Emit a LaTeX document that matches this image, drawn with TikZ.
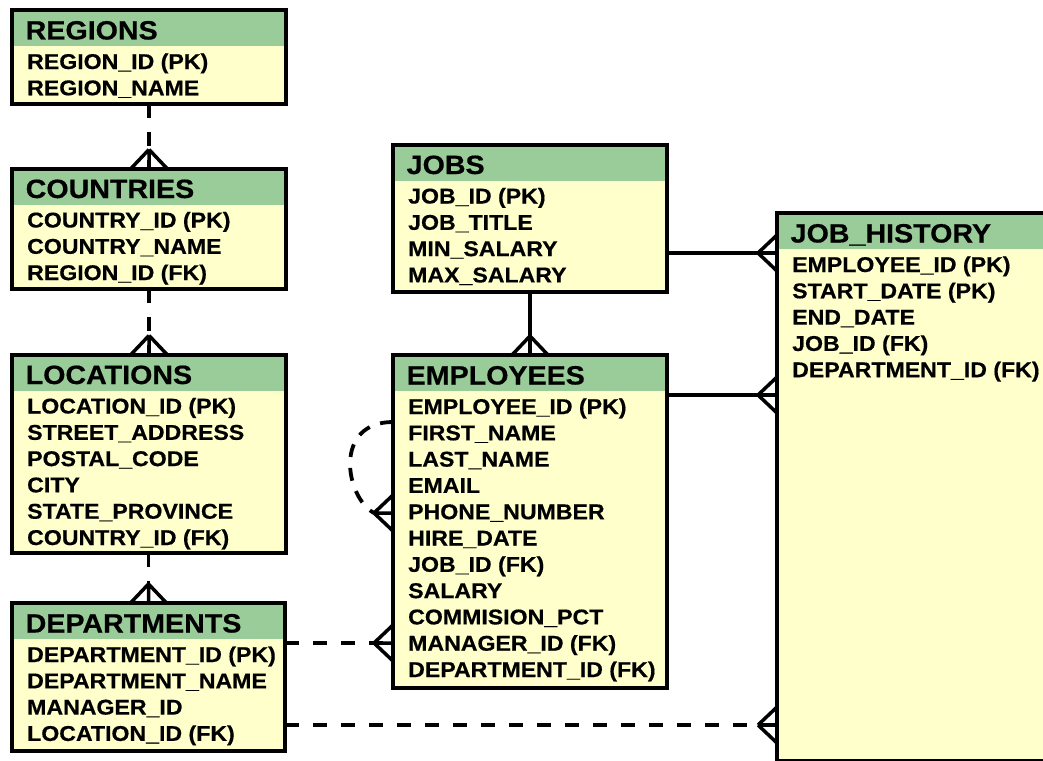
\documentclass[tikz,border=0pt]{standalone}
\usepackage{fontspec}
\newfontfamily\erfont{Liberation Sans}[FakeStretch=1.08, BoldFeatures={FakeBold=0.5}]
\usetikzlibrary{calc}

\definecolor{headgreen}{RGB}{153,204,153}
\definecolor{bodyyellow}{RGB}{255,255,204}

\tikzset{
  entity/.style={draw=black, line width=4pt, fill=bodyyellow, inner sep=0pt,
    outer sep=0pt, anchor=north west},
  entitytitle/.style={anchor=base west, inner sep=0pt,
    font=\erfont\bfseries\fontsize{26.5}{30}\selectfont},
  entityfield/.style={anchor=base west, inner sep=0pt,
    font=\erfont\bfseries\fontsize{21.4}{24}\selectfont},
  link/.style={line width=3.8pt},
  optional/.style={link, dash pattern=on 14pt off 14pt},
  foot/.style={line width=3.5pt},
}

% #1 name, #2 left, #3 top, #4 width, #5 height, #6 title, #7 field list
\newcommand{\erentity}[7]{%
  \node[entity, minimum width=#4pt, minimum height=#5pt] (#1) at (#2,#3) {};
  \fill[headgreen] ([shift={(2pt,-2pt)}]#1.north west)
    rectangle ([shift={(-2pt,-36pt)}]#1.north east);
  \node[entitytitle] (#1-title) at ([shift={(13.5pt,-29.5pt)}]#1.north west) {#6};
  \foreach \f [count=\i] in {#7} {
    \node[entityfield] (#1-f\i) at ([shift={(15pt,{-59pt-(\i-1)*26.3pt})}]#1.north west) {\f};
  }
}

% crow's foot ending at point #1, opening towards direction #2
\newcommand{\crowfoot}[2]{%
  \draw[foot] ([shift={(#2:19pt)}]#1) -- ([shift={(#2+90:18pt)}]#1)
              ([shift={(#2:19pt)}]#1) -- ([shift={(#2-90:18pt)}]#1)
              ([shift={(#2:19pt)}]#1) -- (#1);
}

\begin{document}
\begin{tikzpicture}[x=1pt, y=-1pt]
  \useasboundingbox (0,0) rectangle (1043,760);
  \clip (0,0) rectangle (1043,760);
  \fill[white] (0,0) rectangle (1043,760);

  % entities
  \erentity{regions}{12}{10}{274}{94}{REGIONS}
    {REGION\_ID (PK), REGION\_NAME}
  \erentity{countries}{12}{168.5}{274}{120}{COUNTRIES}
    {COUNTRY\_ID (PK), COUNTRY\_NAME, REGION\_ID (FK)}
  \erentity{locations}{12}{354.5}{274}{198.5}{LOCATIONS}
    {LOCATION\_ID (PK), STREET\_ADDRESS, POSTAL\_CODE, CITY, STATE\_PROVINCE, COUNTRY\_ID (FK)}
  \erentity{departments}{12}{603}{273}{148}{DEPARTMENTS}
    {DEPARTMENT\_ID (PK), DEPARTMENT\_NAME, MANAGER\_ID, LOCATION\_ID (FK)}
  \erentity{jobs}{393}{144.5}{274}{147.5}{JOBS}
    {JOB\_ID (PK), JOB\_TITLE, MIN\_SALARY, MAX\_SALARY}
  \erentity{employees}{393}{355}{274}{333}{EMPLOYEES}
    {EMPLOYEE\_ID (PK), FIRST\_NAME, LAST\_NAME, EMAIL, PHONE\_NUMBER, HIRE\_DATE,
     JOB\_ID (FK), SALARY, COMMISION\_PCT, MANAGER\_ID (FK), DEPARTMENT\_ID (FK)}
  \erentity{jobhistory}{777}{213}{280}{548}{JOB\_HISTORY}
    {EMPLOYEE\_ID (PK), START\_DATE (PK), END\_DATE, JOB\_ID (FK), DEPARTMENT\_ID (FK)}

  % relationships on the left column
  \draw[optional] (regions.south) -- (countries.north);
  \crowfoot{countries.north}{90}
  \draw[optional] (countries.south) -- (locations.north);
  \crowfoot{locations.north}{90}
  \draw[optional] (departments.north |- locations.south) -- (departments.north);
  \crowfoot{departments.north}{90}

  % jobs -> employees
  \draw[link] (jobs.south) -- (employees.north);
  \crowfoot{employees.north}{90}

  % links into job history
  \coordinate (jh1) at (jobhistory.west |- 0,253);
  \coordinate (jh2) at (jobhistory.west |- 0,395);
  \coordinate (jh3) at (jobhistory.west |- 0,725);
  \draw[link] (jobs.east |- jh1) -- (jh1);
  \crowfoot{jh1}{180}
  \draw[link] (employees.east |- jh2) -- (jh2);
  \crowfoot{jh2}{180}
  \draw[optional] (departments.east |- jh3) -- (jh3);
  \crowfoot{jh3}{180}

  % departments -> employees
  \coordinate (emp1) at (employees.west |- 0,643);
  \draw[optional] (departments.east |- emp1) -- (emp1);
  \crowfoot{emp1}{180}

  % manager self reference
  \coordinate (loopstart) at (employees.west |- 0,422);
  \coordinate (loopend) at (employees.west |- 0,513);
  \draw[optional, dash pattern=on 13pt off 11pt] (loopstart)
    .. controls (333,422) and (345,497) .. ([xshift=-19pt]loopend);
  \crowfoot{loopend}{180}
\end{tikzpicture}
\end{document}
